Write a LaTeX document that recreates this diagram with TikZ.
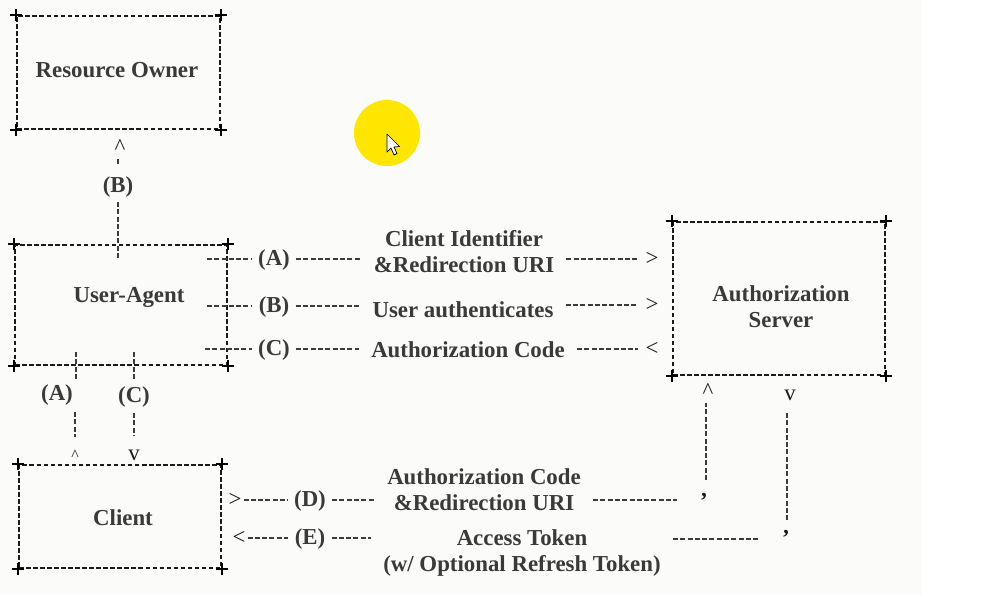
\documentclass[tikz,border=0pt]{standalone}
\usepackage{fontspec}
\setmainfont{Liberation Serif}
\usetikzlibrary{fit}
\definecolor{flowInk}{HTML}{1A1A1A}
\definecolor{flowText}{HTML}{3A3A3A}
\definecolor{flowDash}{HTML}{3C3C3C}
\definecolor{flowPaper}{HTML}{FBFBF9}
\definecolor{flowCursor}{HTML}{FFE600}

\begin{document}
\begin{tikzpicture}[
  x=0.02cm,
  y=-0.02cm,
  box/.style={
    draw=flowInk,
    line width=1pt,
    dash pattern=on 2.6pt off 1.4pt,
    inner sep=0pt
  },
  corner/.style={draw=black, line width=1.2pt},
  boxlabel/.style={
    font=\bfseries\fontsize{13}{14.8}\selectfont,
    text=flowText,
    align=center
  },
  tag/.style={boxlabel, inner xsep=3.4pt, inner ysep=1pt},
  msg/.style={boxlabel, inner xsep=6.8pt, inner ysep=1pt},
  tip/.style={font=\fontsize{13}{13}\selectfont, text=flowInk, inner sep=1pt},
  tick/.style={font=\bfseries\fontsize{13}{13}\selectfont, text=flowInk, inner sep=0pt},
  link/.style={draw=flowDash, line width=.8pt, dash pattern=on 2.85pt off 1.3pt}
]

\path[use as bounding box] (0,0) rectangle (984,595);
\fill[flowPaper] (0,0) rectangle (922,595);

% frames with plus corners
\node[box, fit={(17,16) (220,129)}] (ro) {};
\node[box, fit={(15,245) (227,365)}] (ua) {};
\node[box, fit={(673,222) (885,375)}] (as) {};
\node[box, fit={(19,465) (221,568)}] (cl) {};
\foreach \frm in {ro,ua,as,cl}
  \foreach \cor in {north west,north east,south west,south east}
    \draw[corner] ([xshift=-3.5pt]\frm.\cor) -- ([xshift=3.5pt]\frm.\cor)
                  ([yshift=-3.5pt]\frm.\cor) -- ([yshift=3.5pt]\frm.\cor);

\node[boxlabel] (roname) at (117,70) {Resource Owner};
\node[boxlabel] (uaname) at (129,297) {User-Agent};
\node[boxlabel] (asname) at (781,307) {Authorization\\Server};
\node[boxlabel] (clname) at (123,518) {Client};

% resource owner <-> user-agent
\node[tip] (roTip) at (120,147) {\textasciicircum};
\node[tag] (tB) at (118,187) {(B)};
\coordinate (tB1) at (118,159);
\coordinate (tB2) at (118,165);
\coordinate (tB3) at (118,202);
\coordinate (tB4) at (118,258);
\draw[link] (tB1) -- (tB2);
\draw[link] (tB3) -- (tB4);

% user-agent <-> authorization server
\coordinate (aS) at (207,259);
\node[tag] (aA) at (274,260) {(A)};
\node[msg] (aM) at (464,252) {Client Identifier\\\&Redirection URI};
\node[tip] (aT) at (652,259) {>};
\draw[link] (aS) -- (aS -| aA.west);
\draw[link] (aS -| aA.east) -- (aS -| aM.west);
\draw[link, shorten >=3pt] (aT.west -| aM.east) -- (aT.west);

\coordinate (bS) at (207,306);
\node[tag] (bA) at (274,307) {(B)};
\node[msg] (bM) at (463,310) {User authenticates};
\node[tip] (bT) at (652,305) {>};
\draw[link] (bS) -- (bS -| bA.west);
\draw[link] (bS -| bA.east) -- (bS -| bM.west);
\draw[link, shorten >=3pt] (bT.west -| bM.east) -- (bT.west);

\coordinate (cS) at (205,349);
\node[tag] (cA) at (274,350) {(C)};
\node[msg] (cM) at (468,350) {Authorization Code};
\node[tip] (cT) at (652,349) {<};
\draw[link] (cS) -- (cS -| cA.west);
\draw[link] (cS -| cA.east) -- (cS -| cM.west);
\draw[link, shorten >=3pt] (cT.west -| cM.east) -- (cT.west);

% user-agent <-> client
\node[tag] (lA) at (57,395) {(A)};
\node[tag] (lC) at (134,397) {(C)};
\coordinate (lA1) at (76,352);
\coordinate (lA2) at (76,380);
\coordinate (lA3) at (75,412);
\coordinate (lA4) at (75,437);
\coordinate (lC1) at (134,352);
\coordinate (lC2) at (134,380);
\coordinate (lC3) at (134,413);
\coordinate (lC4) at (134,436);
\draw[link] (lA1) -- (lA2);
\draw[link] (lA3) -- (lA4);
\draw[link] (lC1) -- (lC2);
\draw[link] (lC3) -- (lC4);
\node[tip, font=\fontsize{9}{9}\selectfont] (lAT) at (75,455) {\textasciicircum};
\node[tip] (lCT) at (134,455) {v};

% client <-> authorization server
\node[tip] (dT) at (235,500) {>};
\node[tag] (dA) at (310,501) {(D)};
\node[msg] (dM) at (484,490) {Authorization Code\\\&Redirection URI};
\coordinate (dEnd) at (677,500);
\draw[link] (dT.east) -- (dT.east -| dA.west);
\draw[link] (dT.east -| dA.east) -- (dT.east -| dM.west);
\draw[link] (dEnd -| dM.east) -- (dEnd);
\node[tick] (dQ) at (704,501) {\textquoteright};
\node[tip] (dUp) at (708,391) {\textasciicircum};
\coordinate (dV1) at (706,403);
\coordinate (dV2) at (706,480);
\draw[link] (dV2) -- (dV1);

\node[tip] (eT) at (239,538) {<};
\node[tag] (eA) at (310,539) {(E)};
\node[msg] (eM) at (522,553) {Access Token\\(w/ Optional Refresh Token)};
\coordinate (eEnd) at (760,539);
\draw[link] (eT.east) -- (eT.east -| eA.west);
\draw[link] (eT.east -| eA.east) -- (eT.east -| eM.west);
\draw[link] (eEnd -| eM.east) -- (eEnd);
\node[tick] (eQ) at (786,538) {\textquoteright};
\node[tip] (eDn) at (790,395) {v};
\coordinate (eV1) at (787,413);
\coordinate (eV2) at (787,522);
\draw[link] (eV1) -- (eV2);

% pointer highlight
\fill[flowCursor] (387,133) circle[radius=.66cm];
\draw[fill=white, line width=.4pt, line join=round]
  (387,134) -- (387,152) -- (391,148) -- (394,155) -- (397,153.5)
  -- (394,147) -- (399.5,146.5) -- cycle;
\end{tikzpicture}
\end{document}
